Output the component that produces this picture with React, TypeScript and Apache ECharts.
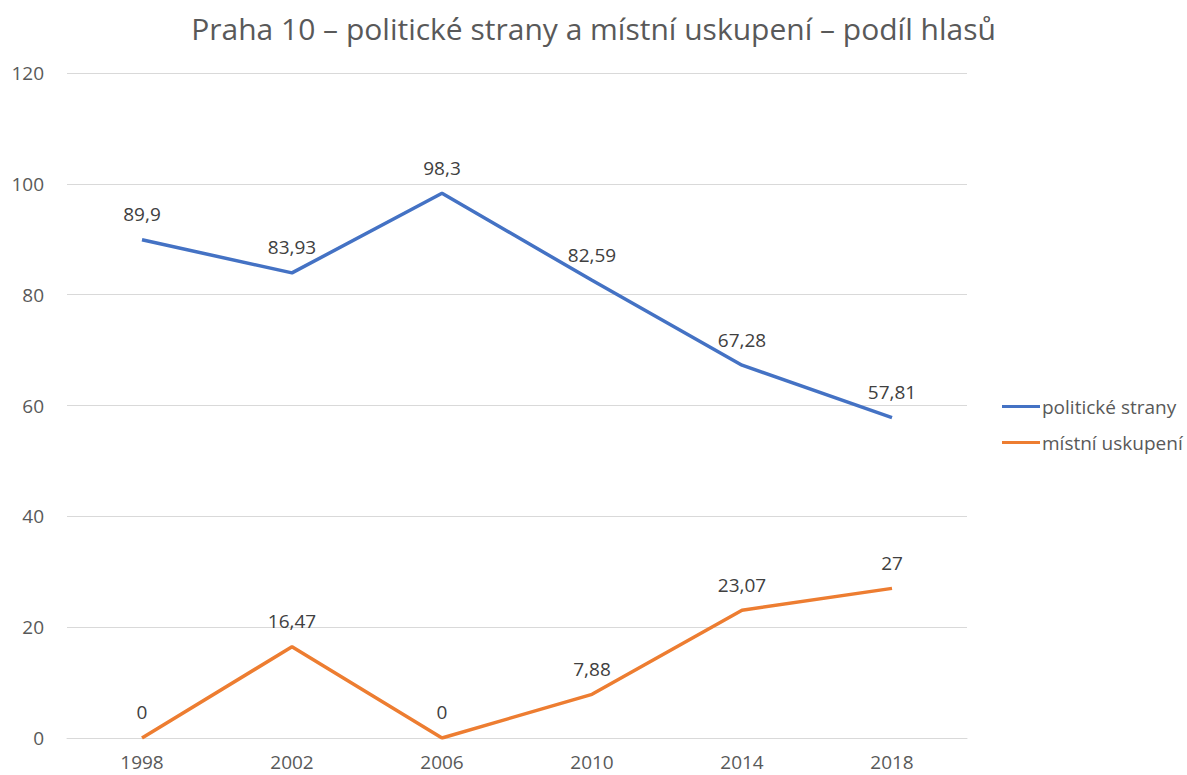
import React, { useEffect, useRef } from "react";
import * as echarts from "echarts";

const years = ["1998", "2002", "2006", "2010", "2014", "2018"];
const politickeStrany = [89.9, 83.93, 98.3, 82.59, 67.28, 57.81];
const mistniUskupeni = [0, 16.47, 0, 7.88, 23.07, 27];
const yTicks = { min: 0, max: 120, interval: 20 };

const FONT = "'Open Sans', sans-serif";

export default function App() {
  const ref = useRef<HTMLDivElement>(null);
  useEffect(() => {
    document.body.style.margin = "0";
    const chart = echarts.init(ref.current!, null, { renderer: "svg" });
    const fmt = (p: any) => String(p.value).replace(".", ",");
    const label = {
      show: true,
      position: "top",
      distance: 16,
      fontFamily: FONT,
      fontSize: 19,
      color: "#404040",
      formatter: fmt,
    };
    chart.setOption({
      animation: false,
      backgroundColor: "#ffffff",
      title: {
        text: "Praha 10 – politické strany a místní uskupení – podíl hlasů",
        left: "center",
        top: 8,
        textStyle: { fontFamily: FONT, fontSize: 30, fontWeight: "normal", color: "#595959" },
      },
      legend: {
        orient: "vertical",
        left: 997,
        top: 392,
        itemWidth: 38,
        itemHeight: 3,
        itemGap: 17,
        icon: "rect",
        textStyle: { fontFamily: FONT, fontSize: 19, color: "#595959", padding: [0, 0, 0, -3] },
        data: ["politické strany", "místní uskupení"],
      },
      grid: { left: 67, right: 220, top: 73, bottom: 37, containLabel: false },
      xAxis: {
        type: "category",
        data: years,
        boundaryGap: true,
        axisLine: { show: true, lineStyle: { color: "#d9d9d9" } },
        axisTick: { show: false },
        axisLabel: { fontFamily: FONT, fontSize: 19, color: "#595959", margin: 14 },
      },
      yAxis: {
        type: "value",
        min: yTicks.min,
        max: yTicks.max,
        interval: yTicks.interval,
        axisLine: { show: false },
        axisTick: { show: false },
        splitLine: { lineStyle: { color: "#d9d9d9", width: 1 } },
        axisLabel: { fontFamily: FONT, fontSize: 19, color: "#595959", margin: 23 },
      },
      series: [
        {
          name: "politické strany",
          type: "line",
          data: politickeStrany,
          symbol: "circle",
          symbolSize: 0.1,
          itemStyle: { color: "#4472C4" },
          lineStyle: { color: "#4472C4", width: 3.5 },
          label,
        },
        {
          name: "místní uskupení",
          type: "line",
          data: mistniUskupeni,
          symbol: "circle",
          symbolSize: 0.1,
          itemStyle: { color: "#ED7D31" },
          lineStyle: { color: "#ED7D31", width: 3.5 },
          label,
        },
      ],
    });
    return () => chart.dispose();
  }, []);
  return <div ref={ref} style={{ width: 1187, height: 775 }} />;
}
